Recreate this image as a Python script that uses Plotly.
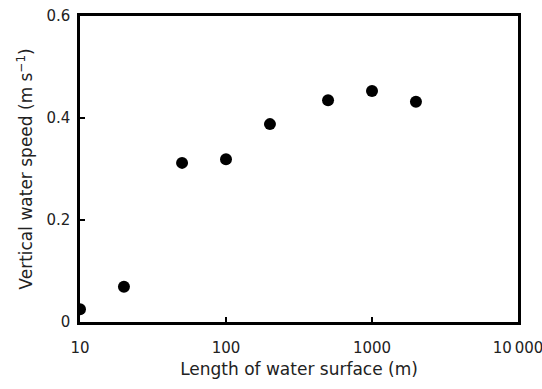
import plotly.graph_objects as go

length_m = [10, 20, 50, 100, 200, 500, 1000, 2000]
speed = [0.025, 0.069, 0.312, 0.319, 0.388, 0.435, 0.453, 0.432]

x_tickvals = [10, 100, 1000, 10000]
x_ticktext = ["10", "100", "1000", "10\u2009000"]
y_tickvals = [0, 0.2, 0.4, 0.6]
y_ticktext = ["0", "0.2", "0.4", "0.6"]

font = "DejaVu Sans, Liberation Sans, sans-serif"

fig = go.Figure(go.Scatter(
    x=length_m, y=speed, mode="markers",
    marker=dict(color="black", size=12),
))

fig.update_layout(
    width=542, height=389,
    margin=dict(l=80, r=24, t=16, b=67),
    paper_bgcolor="white", plot_bgcolor="white",
    showlegend=False,
    font=dict(family=font, size=15, color="#222"),
)
fig.update_xaxes(
    type="log", range=[1, 4], automargin=False,
    tickvals=x_tickvals, ticktext=x_ticktext,
    ticks="inside", ticklen=5, tickwidth=2, tickcolor="black",
    showline=True, linewidth=2.5, linecolor="black", mirror=True,
    showgrid=False, zeroline=False,
    tickfont=dict(size=15), ticklabelstandoff=10, ticklabeloverflow="allow",
    title=dict(text="Length of water surface (m)", font=dict(size=17), standoff=8),
)
fig.update_yaxes(
    range=[0, 0.6], automargin=False,
    tickvals=y_tickvals, ticktext=y_ticktext,
    ticks="inside", ticklen=5, tickwidth=2, tickcolor="black",
    showline=True, linewidth=2.5, linecolor="black", mirror=True,
    showgrid=False, zeroline=False,
    tickfont=dict(size=15), ticklabelstandoff=4,
    title=dict(text="Vertical water speed (m s<sup>\u22121</sup>)", font=dict(size=17), standoff=10),
)

fig.write_html("out.html")
